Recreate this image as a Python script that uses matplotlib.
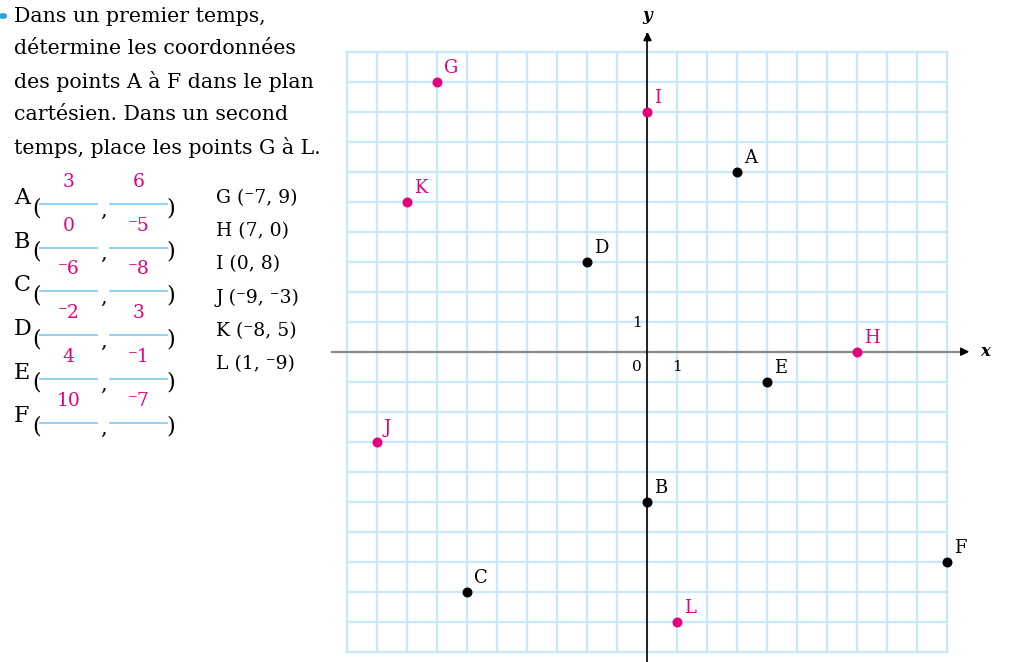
import matplotlib
matplotlib.use("Agg")
import matplotlib.pyplot as plt

plt.rcParams['font.family'] = ['DejaVu Serif', 'DejaVu Sans']

PINK = '#E5007D'
GRID = '#C8E9F9'
ULINE = '#86D0F0'

# --- data ---
instructions = ["Dans un premier temps,",
                "détermine les coordonnées",
                "des points A à F dans le plan",
                "cartésien. Dans un second",
                "temps, place les points G à L."]
found_names = ['A', 'B', 'C', 'D', 'E', 'F']
found_x = [3, 0, -6, -2, 4, 10]
found_y = [6, -5, -8, 3, -1, -7]
placed_names = ['G', 'H', 'I', 'J', 'K', 'L']
placed_x = [-7, 7, 0, -9, -8, 1]
placed_y = [9, 0, 8, -3, 5, -9]
grid_min, grid_max = -10, 10

W, H = 1011, 662
fig = plt.figure(figsize=(W / 100, H / 100), dpi=100)
ax = fig.add_axes([0, 0, 1, 1])
# pixel->data mapping: origin at (647.5, 351.7), 30 px per unit
ox, oy, s = 647.5, 351.7, 30.0
ax.set_xlim(-ox / s, (W - ox) / s)
ax.set_ylim(-(H - oy) / s, oy / s)
ax.axis('off')

def fmt(v):
    return ('\u207b' + str(-v)) if v < 0 else str(v)

# grid
for v in range(grid_min, grid_max + 1):
    ax.plot([v, v], [grid_min, grid_max], color=GRID, lw=1.7, zorder=1)
    ax.plot([grid_min, grid_max], [v, v], color=GRID, lw=1.7, zorder=1)

# axes
ax.plot([-10.5, 10.6], [0, 0], color='#8a8a8a', lw=1.6, zorder=2)
ax.annotate('', xy=(10.82, 0), xytext=(10.4, 0),
            arrowprops=dict(arrowstyle='-|>', color='black', lw=1.2,
                            mutation_scale=12), zorder=3)
ax.plot([0, 0], [-10.5, 10.6], color='black', lw=1.2, zorder=2)
ax.annotate('', xy=(0, 10.75), xytext=(0, 10.3),
            arrowprops=dict(arrowstyle='-|>', color='black', lw=1.2,
                            mutation_scale=12), zorder=3)
ax.text(11.1, 0, 'x', fontsize=12, fontweight='bold', style='italic',
        ha='left', va='center')
ax.text(0, 11.22, 'y', fontsize=12, fontweight='bold', style='italic',
        ha='center', va='center')
ax.text(-0.35, -0.5, '0', fontsize=11, ha='center', va='center')
ax.text(1, -0.5, '1', fontsize=11, ha='center', va='center')
ax.text(-0.35, 0.95, '1', fontsize=11, ha='center', va='center')

# points
ax.scatter(found_x, found_y, s=38, color='black', zorder=4)
for n, x, y in zip(found_names, found_x, found_y):
    ax.annotate(n, (x, y), xytext=(4.5, 3.5), textcoords='offset points',
                fontsize=13, color='black', ha='left', va='bottom', zorder=5)
ax.scatter(placed_x, placed_y, s=38, color=PINK, zorder=4)
for n, x, y in zip(placed_names, placed_x, placed_y):
    ax.annotate(n, (x, y), xytext=(4.5, 3.5), textcoords='offset points',
                fontsize=13, color=PINK, ha='left', va='bottom', zorder=5)

# left panel (pixel coordinates, origin top-left)
def P(px, py):
    return (px / W, 1 - py / H)

fig.patches.append(plt.Circle(P(3, 16), 3.5 / W, transform=fig.transFigure,
                              color='#2AA7DF'))
for i, line in enumerate(instructions):
    fig.text(*P(14, 16 + i * 33), line, fontsize=14.8, ha='left', va='center')

for i, (n, xv, yv) in enumerate(zip(found_names, found_x, found_y)):
    base = 204 + i * 43.7
    fig.text(*P(14, base - 6), n, fontsize=16, ha='left', va='center')
    fig.text(*P(32, base + 4), '(', fontsize=16, ha='left', va='center')
    fig.text(*P(166, base + 4), ')', fontsize=16, ha='left', va='center')
    fig.text(*P(100, base + 6), ',', fontsize=15, ha='left', va='center')
    for x0, x1, v in ((40, 97, xv), (110, 167, yv)):
        fig.add_artist(plt.Line2D([x0 / W, x1 / W], [1 - base / H] * 2,
                                  color=ULINE, lw=1.3,
                                  transform=fig.transFigure))
        fig.text(*P((x0 + x1) / 2, base - 22), fmt(v), fontsize=13.5,
                 color=PINK, ha='center', va='center')

for i, (n, xv, yv) in enumerate(zip(placed_names, placed_x, placed_y)):
    fig.text(*P(216, 198 + i * 33.2), f"{n} ({fmt(xv)}, {fmt(yv)})",
             fontsize=13.5, ha='left', va='center')

fig.savefig('out.png', dpi=100)
